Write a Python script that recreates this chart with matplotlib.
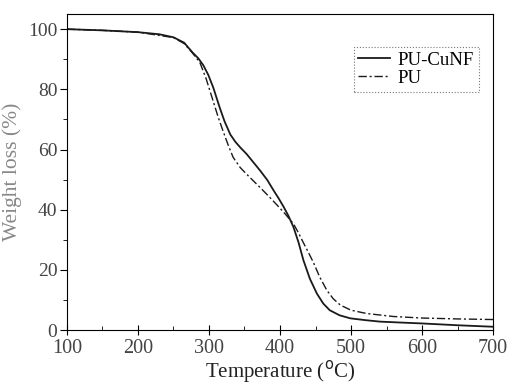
import numpy as np
import matplotlib.pyplot as plt
from matplotlib.ticker import MultipleLocator

temp_cunf = [100, 150, 200, 230, 250, 265, 277, 285, 292, 299, 306, 315, 322, 330, 337,
             344, 353, 362, 372, 382, 391, 398, 405, 412, 419, 426, 433, 442, 452, 461,
             470, 484, 499, 520, 541, 570, 600, 650, 700]
pu_cunf = [100, 99.6, 99.0, 98.3, 97.3, 95.5, 92.2, 90.3, 88.0, 84.8, 80.6, 74.0, 69.3,
           65.0, 62.6, 60.7, 58.5, 55.9, 53.0, 49.9, 46.4, 43.8, 41.0, 37.9, 34.2, 29.2,
           23.2, 17.1, 12.1, 8.8, 6.6, 4.9, 3.9, 3.3, 2.8, 2.5, 2.2, 1.6, 1.1]

temp_pu = [100, 150, 200, 250, 265, 277, 287, 296, 306, 313, 320, 327, 334, 344, 353,
           362, 374, 386, 398, 408, 419, 426, 433, 440, 447, 456, 466, 475, 485, 500,
           522, 560, 600, 650, 700]
pu = [100, 99.6, 99.0, 97.2, 95.2, 92.0, 89.0, 83.5, 76.0, 70.7, 66.0, 61.5, 57.4,
      54.0, 51.8, 49.7, 46.9, 44.0, 41.0, 38.4, 35.3, 32.3, 29.0, 25.8, 22.5, 17.6,
      13.2, 10.4, 8.3, 6.6, 5.5, 4.5, 4.0, 3.7, 3.5]

plt.rcParams['font.family'] = 'Liberation Serif'
txt = '#444444'

fig = plt.figure(figsize=(5.09, 3.92), dpi=100)
ax = fig.add_axes([0.1316, 0.158, 0.837, 0.806])

ax.plot(temp_cunf, pu_cunf, color='#1a1a1a', lw=1.3, label='PU-CuNF')
ax.plot(temp_pu, pu, color='#1a1a1a', lw=1.0, ls=(0, (6, 2, 1.5, 2)), label='PU')

ax.set_xlim(100, 700)
ax.set_ylim(0, 105)
ax.xaxis.set_major_locator(MultipleLocator(100))
ax.xaxis.set_minor_locator(MultipleLocator(50))
ax.yaxis.set_major_locator(MultipleLocator(20))
ax.yaxis.set_minor_locator(MultipleLocator(10))
ax.tick_params(axis='x', which='major', direction='inout', length=7, labelsize=14.5, labelcolor=txt, pad=3)
ax.tick_params(axis='x', which='minor', direction='in', length=3)
ax.tick_params(axis='y', which='major', direction='out', length=5, labelsize=14, labelcolor=txt, pad=2)
ax.tick_params(axis='y', which='minor', direction='out', length=3)

ax.set_xlabel('Temperature ($^{\\rm o}$C)', fontsize=15, color='#222222', labelpad=0)
ax.set_ylabel('Weight loss (%)', fontsize=15.5, color='#888888', labelpad=4)

leg = ax.legend(loc='upper right', bbox_to_anchor=(0.988, 0.925), fontsize=13.5,
                frameon=True, fancybox=False, handlelength=1.7, borderpad=0.25,
                labelspacing=0.05, handletextpad=0.4)
leg.get_frame().set_edgecolor('#555555')
leg.get_frame().set_linestyle(':')
leg.get_frame().set_linewidth(0.8)

fig.savefig('out.png', dpi=100)
